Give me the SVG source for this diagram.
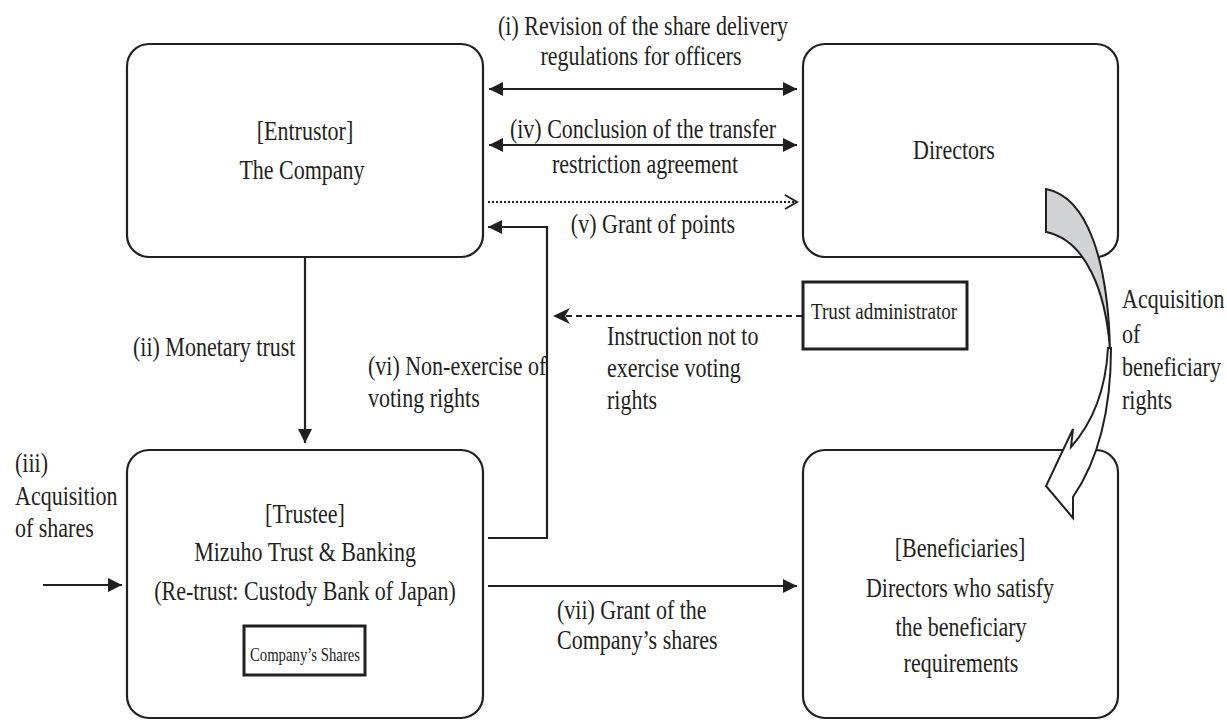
<svg xmlns="http://www.w3.org/2000/svg" width="1227" height="720" viewBox="0 0 1227 720">
<style>
.box{fill:#fff;stroke:#231f20;stroke-width:2.2}
.sbox{fill:#fff;stroke:#231f20;stroke-width:3}
.t{font-family:"Liberation Serif","Times New Roman",serif;font-size:26.5px;fill:#231f20}
.c{text-anchor:middle}
.ln{fill:none;stroke:#231f20;stroke-width:2.2}
</style>
<defs>
<marker id="ah" markerUnits="userSpaceOnUse" markerWidth="16" markerHeight="16" refX="14" refY="7" orient="auto-start-reverse">
<path d="M0,0 L14,7 L0,14 z" fill="#231f20"/>
</marker>
<marker id="open" markerUnits="userSpaceOnUse" markerWidth="16" markerHeight="18" refX="13" refY="8" orient="auto">
<path d="M1,1 L13,8 L1,15" fill="none" stroke="#231f20" stroke-width="2"/>
</marker>
<marker id="stealth" markerUnits="userSpaceOnUse" markerWidth="20" markerHeight="18" refX="17" refY="9" orient="auto">
<path d="M0,1 L17,9 L0,17 L5,9 z" fill="#231f20"/>
</marker>
</defs>

<g id="entrustor">
<rect class="box" x="127" y="44" width="356" height="213" rx="22"/>
<text class="t c" transform="translate(305,140) scale(0.83,1)">[Entrustor]</text>
<text class="t c" transform="translate(302,179) scale(0.83,1)">The Company</text>
</g>

<g id="directors">
<rect class="box" x="803" y="44" width="315" height="213" rx="22"/>
<text class="t c" transform="translate(954,159) scale(0.83,1)">Directors</text>
</g>

<g id="trust-administrator">
<rect class="sbox" x="803" y="282" width="164" height="67"/>
<text class="t" transform="translate(811,319) scale(0.83,1)" style="font-size:23px">Trust administrator</text>
</g>

<g id="trustee">
<rect class="box" x="127" y="450" width="356" height="268" rx="22"/>
<text class="t c" transform="translate(305,523) scale(0.83,1)">[Trustee]</text>
<text class="t c" transform="translate(305,561) scale(0.83,1)">Mizuho Trust &amp; Banking</text>
<text class="t c" transform="translate(305,600) scale(0.83,1)">(Re-trust: Custody Bank of Japan)</text>
<rect class="sbox" x="244" y="626" width="121" height="49"/>
<text class="t c" transform="translate(305,661) scale(0.82,1)" style="font-size:18px">Company’s Shares</text>
</g>

<g id="beneficiaries">
<rect class="box" x="803" y="450" width="315" height="268" rx="22"/>
<text class="t c" transform="translate(960,557) scale(0.83,1)">[Beneficiaries]</text>
<text class="t c" transform="translate(960,597) scale(0.83,1)">Directors who satisfy</text>
<text class="t c" transform="translate(961,636) scale(0.83,1)">the beneficiary</text>
<text class="t c" transform="translate(961,672) scale(0.83,1)">requirements</text>
</g>

<g id="connectors">
<line class="ln" x1="489" y1="89" x2="797" y2="89" marker-start="url(#ah)" marker-end="url(#ah)"/>
<line class="ln" x1="489" y1="145" x2="797" y2="145" marker-start="url(#ah)" marker-end="url(#ah)"/>
<line class="ln" x1="488" y1="202" x2="797" y2="202" stroke-dasharray="2,2" marker-end="url(#open)"/>
<polyline class="ln" points="488,538 547,538 547,227 488,227" marker-end="url(#ah)"/>
<line class="ln" x1="802" y1="316" x2="553" y2="316" stroke-dasharray="6,4" marker-end="url(#stealth)"/>
<line class="ln" x1="305" y1="258" x2="305" y2="443" marker-end="url(#ah)"/>
<line class="ln" x1="43" y1="585" x2="122" y2="585" marker-end="url(#ah)"/>
<line class="ln" x1="488" y1="586" x2="797" y2="586" marker-end="url(#ah)"/>
<path d="M1046,189 C1088,197 1108,262 1110,350 C1106,292 1086,240 1046,232 Z" fill="#d1d3d4" stroke="#231f20" stroke-width="2"/>
<path d="M1108,348 C1106,385 1095,420 1071,447 L1073,429 L1046,486 L1073,518 L1073,497 C1097,462 1111,415 1111,348 Z" fill="#fff" stroke="#231f20" stroke-width="2" stroke-linejoin="miter"/>
</g>

<g id="labels">
<text class="t c" transform="translate(643,35) scale(0.83,1)">(i) Revision of the share delivery</text>
<text class="t c" transform="translate(641,65) scale(0.83,1)">regulations for officers</text>
<text class="t c" transform="translate(643,138) scale(0.83,1)">(iv) Conclusion of the transfer</text>
<text class="t c" transform="translate(645,173) scale(0.83,1)">restriction agreement</text>
<text class="t c" transform="translate(653,233) scale(0.83,1)">(v) Grant of points</text>
<text class="t" transform="translate(607,345) scale(0.83,1)">Instruction not to</text>
<text class="t" transform="translate(607,377) scale(0.83,1)">exercise voting</text>
<text class="t" transform="translate(607,409) scale(0.83,1)">rights</text>
<text class="t" transform="translate(133,356) scale(0.83,1)">(ii) Monetary trust</text>
<text class="t" transform="translate(368,375) scale(0.83,1)">(vi) Non-exercise of</text>
<text class="t" transform="translate(368,407) scale(0.83,1)">voting rights</text>
<text class="t" transform="translate(1122,308) scale(0.83,1)">Acquisition</text>
<text class="t" transform="translate(1122,343) scale(0.83,1)">of</text>
<text class="t" transform="translate(1122,376) scale(0.83,1)">beneficiary</text>
<text class="t" transform="translate(1122,409) scale(0.83,1)">rights</text>
<text class="t" transform="translate(15,472) scale(0.83,1)">(iii)</text>
<text class="t" transform="translate(15,505) scale(0.83,1)">Acquisition</text>
<text class="t" transform="translate(15,537) scale(0.83,1)">of shares</text>
<text class="t" transform="translate(557,619) scale(0.83,1)">(vii) Grant of the</text>
<text class="t" transform="translate(557,649) scale(0.83,1)">Company’s shares</text>
</g>
</svg>
